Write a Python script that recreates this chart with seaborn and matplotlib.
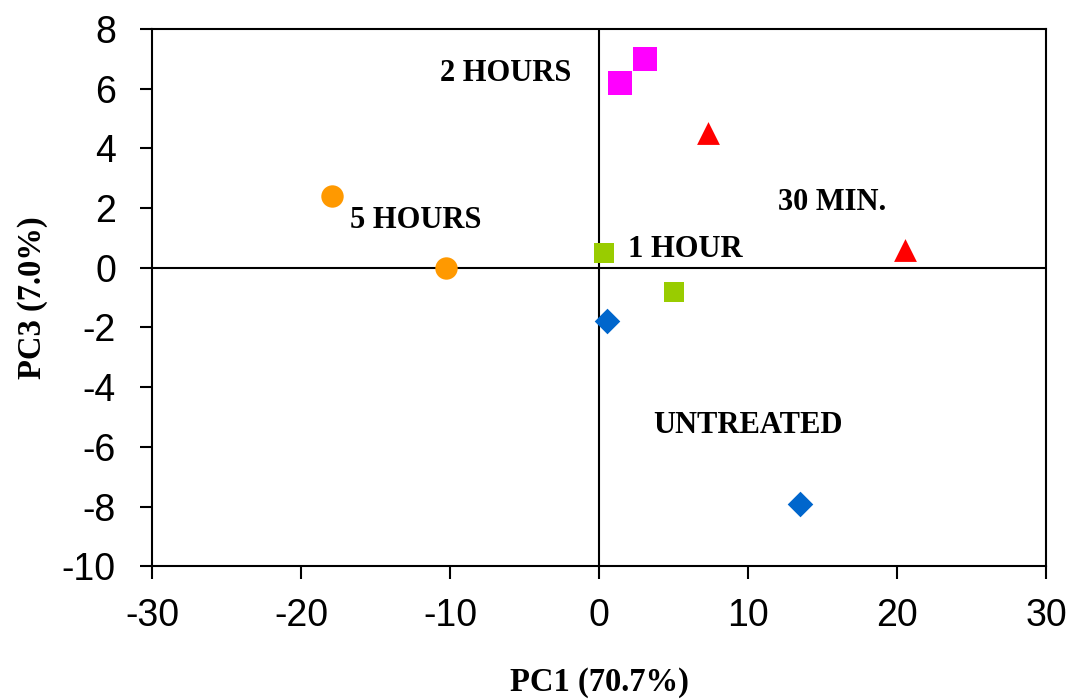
import matplotlib
matplotlib.use("Agg")
import matplotlib.pyplot as plt
import seaborn as sns
import pandas as pd

# treatment groups and their PCA scores
groups = ["UNTREATED", "UNTREATED", "30 MIN.", "30 MIN.", "1 HOUR", "1 HOUR",
          "2 HOURS", "2 HOURS", "5 HOURS", "5 HOURS"]
pc1 = [0.5, 13.5, 7.3, 20.5, 0.3, 5.0, 1.4, 3.1, -17.9, -10.3]
pc3 = [-1.8, -7.9, 4.5, 0.6, 0.5, -0.8, 6.2, 7.0, 2.4, 0.0]

label_text = ["2 HOURS", "5 HOURS", "30 MIN.", "1 HOUR", "UNTREATED"]
label_x = [-6.3, -12.3, 15.6, 5.8, 10.0]
label_y = [6.5, 1.6, 2.2, 0.6, -5.3]

colors = {"UNTREATED": "#0066CC", "30 MIN.": "#FF0000", "1 HOUR": "#99CC00",
          "2 HOURS": "#FF00FF", "5 HOURS": "#FF9900"}
markers = {"UNTREATED": "D", "30 MIN.": "^", "1 HOUR": "s",
           "2 HOURS": "s", "5 HOURS": "o"}
sizes = {"UNTREATED": 170, "30 MIN.": 270, "1 HOUR": 200,
         "2 HOURS": 290, "5 HOURS": 260}

df = pd.DataFrame({"group": groups, "PC1": pc1, "PC3": pc3})

sns.set_style("white")
plt.rcParams["axes.unicode_minus"] = False
plt.rcParams["text.color"] = "black"
plt.rcParams["axes.labelcolor"] = "black"
plt.rcParams["xtick.color"] = "black"
plt.rcParams["ytick.color"] = "black"

fig = plt.figure(figsize=(10.73, 6.99), dpi=100)
ax = fig.add_axes([0.1417, 0.19, 0.8334, 0.7685])

for g in colors:
    sub = df[df["group"] == g]
    sns.scatterplot(data=sub, x="PC1", y="PC3", color=colors[g], marker=markers[g],
                    s=sizes[g], linewidth=0, ax=ax, legend=False, zorder=3)

ax.axhline(0, color="black", lw=1.5, zorder=1)
ax.axvline(0, color="black", lw=1.5, zorder=1)

for t, x, y in zip(label_text, label_x, label_y):
    ax.text(x, y, t, ha="center", va="center", fontsize=22, fontweight="bold",
            family="Liberation Serif")

ax.set_xlim(-30, 30)
ax.set_ylim(-10, 8)
ax.set_xticks(range(-30, 31, 10))
ax.set_yticks(range(-10, 9, 2))
for sp in ax.spines.values():
    sp.set_color("black")
    sp.set_linewidth(1.5)
ax.tick_params(axis="both", direction="out", length=9, width=1.5,
               labelsize=27, bottom=True, left=True)
ax.tick_params(axis="x", pad=14)
ax.tick_params(axis="y", pad=17)
for lab in ax.get_xticklabels() + ax.get_yticklabels():
    lab.set_family("Liberation Sans")

ax.set_xlabel("PC1 (70.7%)", fontsize=23.5, fontweight="bold", family="Liberation Serif",
              labelpad=24)
ax.set_ylabel("PC3 (7.0%)", fontsize=23.5, fontweight="bold", family="Liberation Serif",
              labelpad=10)

fig.savefig("out.png", dpi=100)
plt.close(fig)
